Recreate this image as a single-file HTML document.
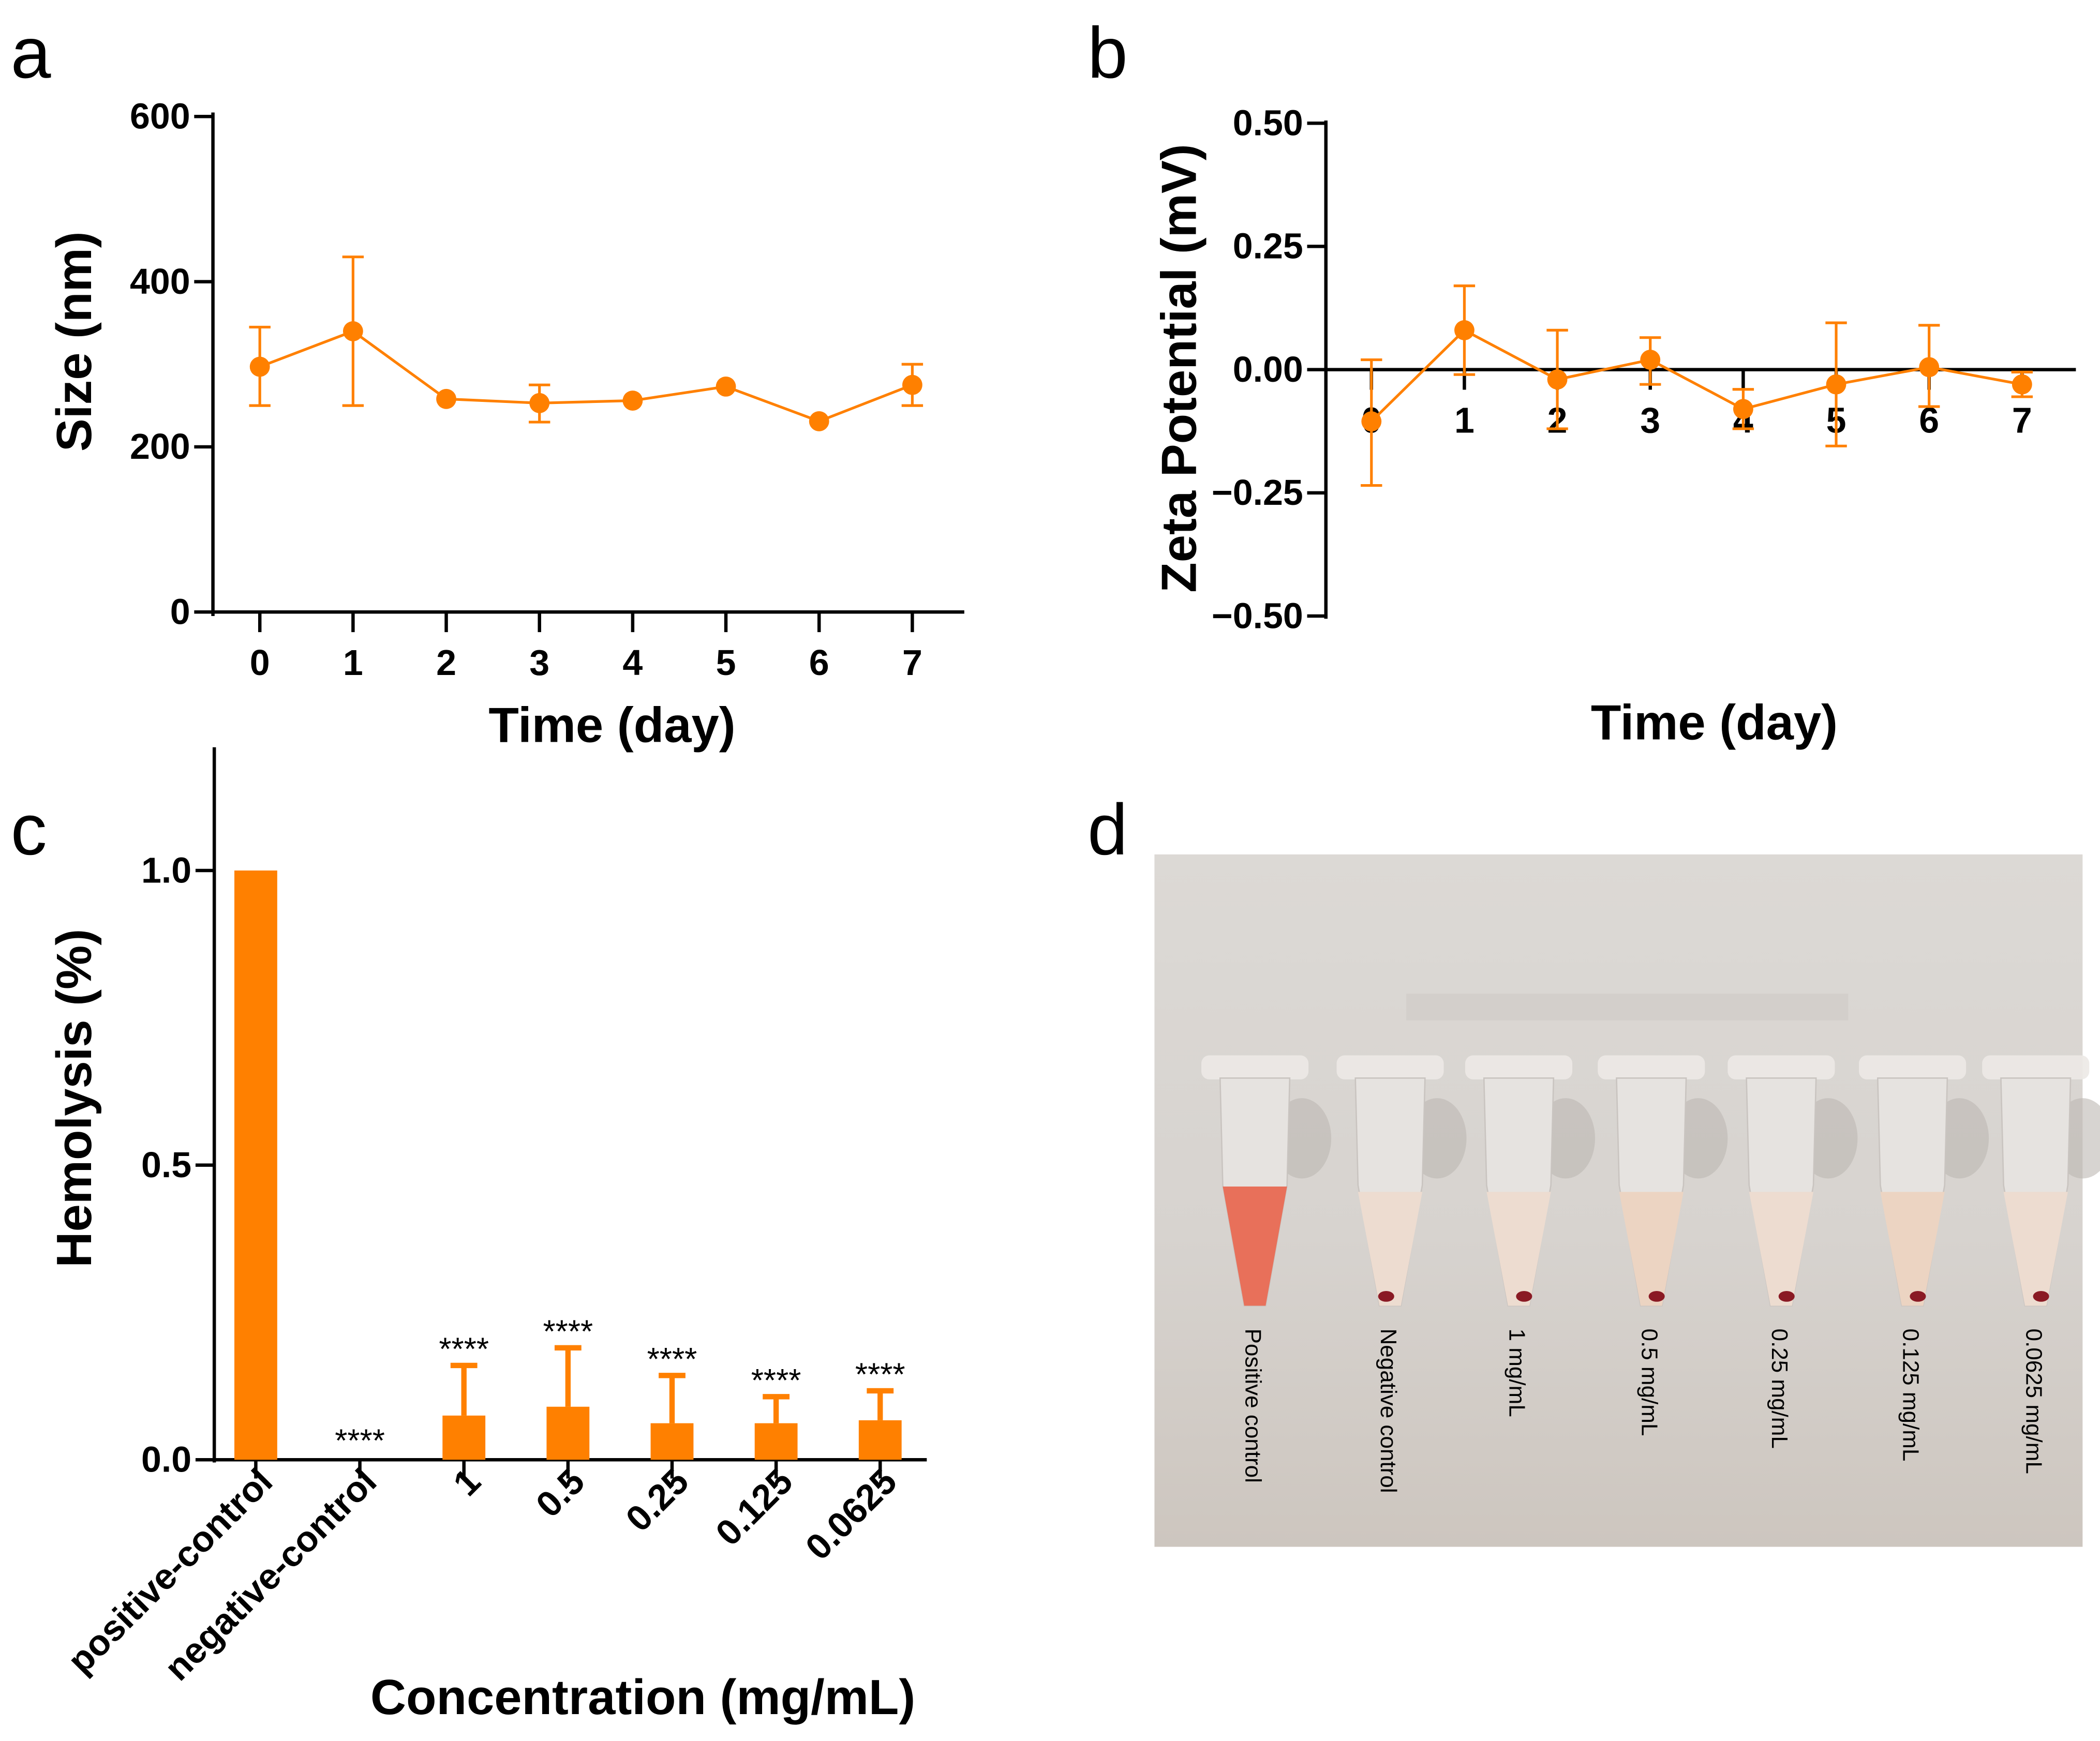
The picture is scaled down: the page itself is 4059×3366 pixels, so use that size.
<!DOCTYPE html>
<html><head><meta charset="utf-8"><style>
html,body{margin:0;padding:0;background:#fff}
svg{display:block}
text{font-family:"Liberation Sans",Arial,sans-serif}
</style></head><body>
<svg id="fig" width="4059" height="3366" viewBox="0 0 1568 1300" preserveAspectRatio="none" xmlns="http://www.w3.org/2000/svg">
<defs>
<linearGradient id="bg" x1="0" y1="0" x2="0" y2="1"><stop offset="0" stop-color="#dcd9d5"/><stop offset="0.55" stop-color="#d7d3cf"/><stop offset="1" stop-color="#cdc6bf"/></linearGradient>
</defs>
<text x="8" y="58" font-size="54">a</text>
<text x="812" y="58" font-size="54">b</text>
<text x="8" y="638" font-size="54">c</text>
<text x="812" y="638" font-size="54">d</text>
<g id="pa"></g>
<g id="pb"></g>
<g id="pc"></g>
<g id="pd"></g>
</svg>
<script>
// Panel a data
const daysA = [0,1,2,3,4,5,6,7];
const sizeMean = [297,340,258,253,256,273,231,275];
const sizeErrLo = [250,250,258,230,256,273,231,250];
const sizeErrHi = [345,430,258,275,256,273,231,300];
const sizeTicks = [0,200,400,600];
// Panel b data
const daysB = [0,1,2,3,4,5,6,7];
const zetaMean = [-0.105,0.08,-0.02,0.02,-0.08,-0.03,0.005,-0.03];
const zetaErrLo = [-0.235,-0.01,-0.12,-0.03,-0.12,-0.155,-0.075,-0.055];
const zetaErrHi = [0.02,0.17,0.08,0.065,-0.04,0.095,0.09,-0.005];
const zetaTicks = [-0.5,-0.25,0,0.25,0.5];
const zetaTickLabels = ["\u22120.50","\u22120.25","0.00","0.25","0.50"];
// Panel c data
const concCats = ["positive-control","negative-control","1","0.5","0.25","0.125","0.0625"];
const hemoMean = [1.0,0,0.075,0.09,0.062,0.062,0.067];
const hemoErrHi = [1.0,0,0.16,0.19,0.143,0.107,0.117];
const hemoStars = ["","****","****","****","****","****","****"];
const hemoTicks = [0,0.5,1.0];
const hemoTickLabels = ["0.0","0.5","1.0"];
// Panel d labels
const tubeLabels = ["Positive control","Negative control","1 mg/mL","0.5 mg/mL","0.25 mg/mL","0.125 mg/mL","0.0625 mg/mL"];

const NS="http://www.w3.org/2000/svg";
const OR="#ff8000";
const TF=27, TT=37;
function mk(p,tag,at,txt){const e=document.createElementNS(NS,tag);for(const k in at)e.setAttribute(k,at[k]);if(txt!==undefined)e.textContent=txt;p.appendChild(e);return e;}

// ---- Panel a
(function(){
const g=document.getElementById('pa');
const xA=d=>194+d*69.6, yA=v=>457-v*(370/600);
let e=mk(g,'line',{x1:159,y1:84,x2:159,y2:460,stroke:'#000','stroke-width':2.5});

e=mk(g,'line',{x1:158,y1:457,x2:720,y2:457,stroke:'#000','stroke-width':2.5});

sizeTicks.forEach(t=>{mk(g,'line',{x1:145,y1:yA(t),x2:159,y2:yA(t),stroke:'#000','stroke-width':2.5});
 e=mk(g,'text',{x:142,y:yA(t)+9,'font-size':TF,'font-weight':'bold','text-anchor':'end'},String(t));
 });
daysA.forEach(d=>{mk(g,'line',{x1:xA(d),y1:457,x2:xA(d),y2:472,stroke:'#000','stroke-width':2.5});
 e=mk(g,'text',{x:xA(d),y:504,'font-size':TF,'font-weight':'bold','text-anchor':'middle'},String(d));
 });
e=mk(g,'text',{x:457,y:554,'font-size':TT,'font-weight':'bold','text-anchor':'middle'},'Time (day)');

e=mk(g,'text',{x:0,y:0,'font-size':TT,'font-weight':'bold','text-anchor':'middle',transform:'translate(68,255) rotate(-90)'},'Size (nm)');

daysA.forEach((d,i)=>{if(sizeErrHi[i]!==sizeErrLo[i]){const x=xA(d);
 mk(g,'line',{x1:x,y1:yA(sizeErrLo[i]),x2:x,y2:yA(sizeErrHi[i]),stroke:OR,'stroke-width':2});
 mk(g,'line',{x1:x-8,y1:yA(sizeErrLo[i]),x2:x+8,y2:yA(sizeErrLo[i]),stroke:OR,'stroke-width':2});
 mk(g,'line',{x1:x-8,y1:yA(sizeErrHi[i]),x2:x+8,y2:yA(sizeErrHi[i]),stroke:OR,'stroke-width':2});}});
e=mk(g,'polyline',{points:daysA.map((d,i)=>xA(d)+','+yA(sizeMean[i])).join(' '),fill:'none',stroke:OR,'stroke-width':2});

daysA.forEach((d,i)=>{e=mk(g,'circle',{cx:xA(d),cy:yA(sizeMean[i]),r:7.5,fill:OR});
 });
})();

// ---- Panel b
(function(){
const g=document.getElementById('pb');
const xB=d=>1024+d*69.4, yB=v=>276-v*368;
let e=mk(g,'line',{x1:990,y1:90,x2:990,y2:462,stroke:'#000','stroke-width':2.5});

e=mk(g,'line',{x1:990,y1:yB(0),x2:1550,y2:yB(0),stroke:'#000','stroke-width':2.5});

zetaTicks.forEach((t,i)=>{mk(g,'line',{x1:976,y1:yB(t),x2:990,y2:yB(t),stroke:'#000','stroke-width':2.5});
 e=mk(g,'text',{x:973,y:yB(t)+9,'font-size':TF,'font-weight':'bold','text-anchor':'end'},zetaTickLabels[i]);
 });
daysB.forEach(d=>{mk(g,'line',{x1:xB(d),y1:yB(0),x2:xB(d),y2:yB(0)+15,stroke:'#000','stroke-width':2.5});
 e=mk(g,'text',{x:xB(d),y:323,'font-size':TF,'font-weight':'bold','text-anchor':'middle'},String(d));
 });
e=mk(g,'text',{x:1280,y:552,'font-size':TT,'font-weight':'bold','text-anchor':'middle'},'Time (day)');

e=mk(g,'text',{x:0,y:0,'font-size':TT,'font-weight':'bold','text-anchor':'middle',transform:'translate(893,275) rotate(-90)'},'Zeta Potential (mV)');

daysB.forEach((d,i)=>{const x=xB(d);
 mk(g,'line',{x1:x,y1:yB(zetaErrLo[i]),x2:x,y2:yB(zetaErrHi[i]),stroke:OR,'stroke-width':2});
 mk(g,'line',{x1:x-8,y1:yB(zetaErrLo[i]),x2:x+8,y2:yB(zetaErrLo[i]),stroke:OR,'stroke-width':2});
 mk(g,'line',{x1:x-8,y1:yB(zetaErrHi[i]),x2:x+8,y2:yB(zetaErrHi[i]),stroke:OR,'stroke-width':2});});
e=mk(g,'polyline',{points:daysB.map((d,i)=>xB(d)+','+yB(zetaMean[i])).join(' '),fill:'none',stroke:OR,'stroke-width':2});

daysB.forEach((d,i)=>{e=mk(g,'circle',{cx:xB(d),cy:yB(zetaMean[i]),r:7.5,fill:OR});
 });
})();

// ---- Panel c
(function(){
const g=document.getElementById('pc');
const xC=i=>191+i*77.7, yC=v=>1090-v*440;
let e=mk(g,'line',{x1:160,y1:558,x2:160,y2:1092,stroke:'#000','stroke-width':2.5});

e=mk(g,'line',{x1:159,y1:1090,x2:692,y2:1090,stroke:'#000','stroke-width':2.5});

hemoTicks.forEach((t,i)=>{mk(g,'line',{x1:146,y1:yC(t),x2:160,y2:yC(t),stroke:'#000','stroke-width':2.5});
 e=mk(g,'text',{x:143,y:yC(t)+9,'font-size':TF,'font-weight':'bold','text-anchor':'end'},hemoTickLabels[i]);
 });
concCats.forEach((c,i)=>{const x=xC(i);
 mk(g,'line',{x1:x,y1:1090,x2:x,y2:1104,stroke:'#000','stroke-width':2.5});
 e=mk(g,'text',{x:0,y:0,'font-size':TF,'font-weight':'bold','text-anchor':'end',transform:'translate('+(x+14)+',1108) rotate(-45)'},c);
 
 if(hemoErrHi[i]>hemoMean[i]){
  mk(g,'line',{x1:x,y1:yC(hemoMean[i]),x2:x,y2:yC(hemoErrHi[i]),stroke:OR,'stroke-width':4});
  mk(g,'line',{x1:x-10,y1:yC(hemoErrHi[i]),x2:x+10,y2:yC(hemoErrHi[i]),stroke:OR,'stroke-width':4});}
 if(hemoMean[i]>0){e=mk(g,'rect',{x:x-16,y:yC(hemoMean[i]),width:32,height:1090-yC(hemoMean[i]),fill:OR});
  }
 if(hemoStars[i]){e=mk(g,'text',{x:x,y:yC(Math.max(hemoErrHi[i],hemoMean[i]))-4,'font-size':24,'text-anchor':'middle'},hemoStars[i]);
  if(hemoErrHi[i]===0)e.setAttribute('y',1084);
  }
});
e=mk(g,'text',{x:480,y:1280,'font-size':TT,'font-weight':'bold','text-anchor':'middle'},'Concentration (mg/mL)');

e=mk(g,'text',{x:0,y:0,'font-size':TT,'font-weight':'bold','text-anchor':'middle',transform:'translate(68,820) rotate(-90)'},'Hemolysis (%)');

})();

// ---- Panel d photo
(function(){
const g=document.getElementById('pd');
let e=mk(g,'rect',{x:862,y:638,width:693,height:517,fill:'url(#bg)'});

mk(g,'rect',{x:1050,y:742,width:330,height:20,fill:'#cfcac6',opacity:0.6});
const tx=[937,1038,1134,1233,1330,1428,1520];
tubeLabels.forEach((lab,i)=>{const x=tx[i];
 mk(g,'ellipse',{cx:x+35,cy:850,rx:22,ry:30,fill:'#bdb7b3',opacity:0.6});
 mk(g,'rect',{x:x-40,y:788,width:80,height:18,rx:6,fill:'#ece9e6',opacity:0.9});
 const liquid=i===0?'#e8705a':(i===3||i===5?'#ecd4c2':'#eddcd0');
 e=mk(g,'path',{d:'M'+(x-26)+',805 L'+(x+26)+',805 L'+(x+24)+',885 L'+(x+8)+',975 L'+(x-8)+',975 L'+(x-24)+',885 Z',fill:'#e6e3e0',stroke:'#c9c4c0','stroke-width':1});
 
 mk(g,'path',{d:'M'+(x-24)+','+(i===0?886:890)+' L'+(x+24)+','+(i===0?886:890)+' L'+(x+8)+',975 L'+(x-8)+',975 Z',fill:liquid});
 if(i>0)mk(g,'ellipse',{cx:x+(i===1?-3:4),cy:968,rx:6,ry:4,fill:'#8a1a24'});
 e=mk(g,'text',{x:0,y:0,'font-size':17,transform:'translate('+(x-7)+',992) rotate(90)'},lab);
 
});
})();
</script>
</body></html>
